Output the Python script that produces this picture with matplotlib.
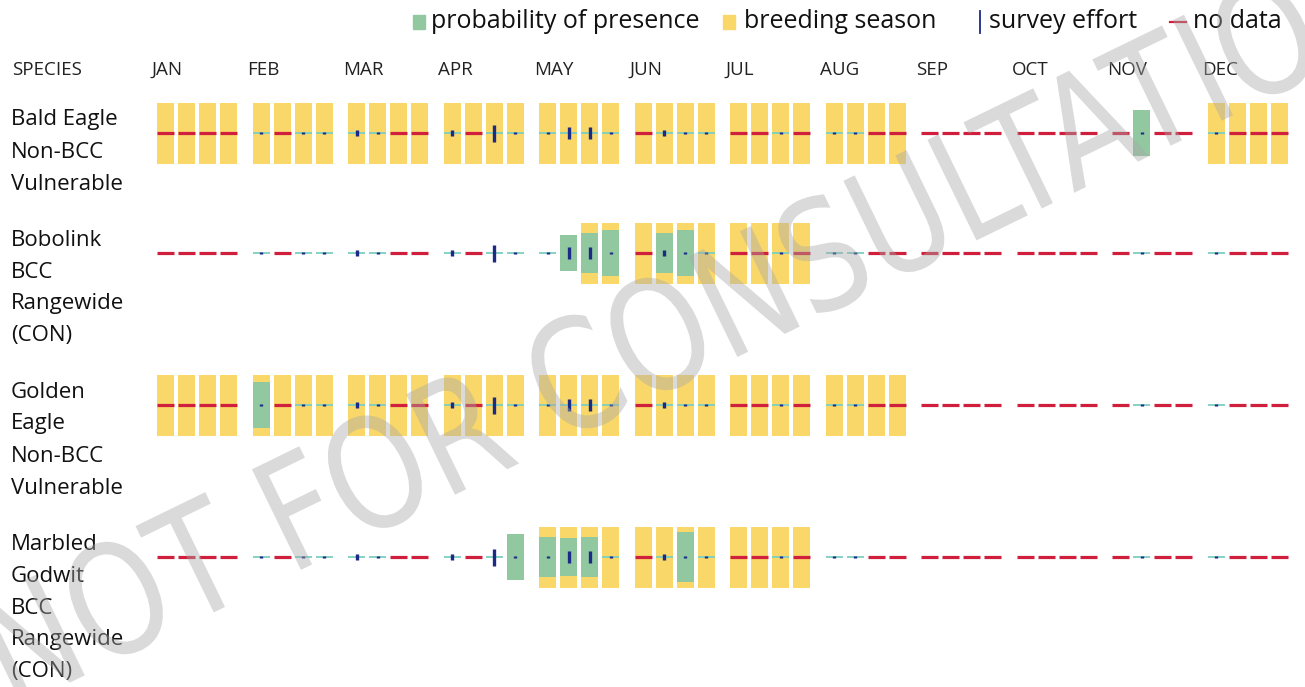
import numpy as np
import matplotlib.pyplot as plt
from matplotlib.patches import Rectangle, PathPatch
from matplotlib.textpath import TextPath
from matplotlib.font_manager import FontProperties
from matplotlib.transforms import Affine2D

plt.rcParams['font.family'] = ['Open Sans', 'DejaVu Sans']

# ---- data -------------------------------------------------------------
months = ['JAN', 'FEB', 'MAR', 'APR', 'MAY', 'JUN',
          'JUL', 'AUG', 'SEP', 'OCT', 'NOV', 'DEC']

species = [
    ['Bald Eagle', 'Non-BCC', 'Vulnerable'],
    ['Bobolink', 'BCC', 'Rangewide', '(CON)'],
    ['Golden', 'Eagle', 'Non-BCC', 'Vulnerable'],
    ['Marbled', 'Godwit', 'BCC', 'Rangewide', '(CON)'],
]

# survey effort per week (0-10), None = no data
N = None
survey_effort = [N, N, N, N,   1.5, N, 1.5, 1.5,   3.5, 1.5, N, N,   3.5, N, 10, 1.5,
                 1.5, 7, 7, 1.5,   N, 3.5, 1.5, 1.5,   N, N, 1.5, N,   1.5, 1.5, N, N,
                 N, N, N, N,   N, N, N, N,   N, 1.5, N, N,   1.5, N, N, N]

# probability of presence per week (0-10)
prob_bald = [0, 0, 0, 0,  0, 0, 0, 0,  0, 0, 0, 0,  0, 0, 0, 0,
             0, 0, 0, 0,  0, 0, 0, 0,  0, 0, 0, 0,  0, 0, 0, 0,
             0, 0, 0, 0,  0, 0, 0, 0,  0, 7.4, 0, 0,  0, 0, 0, 0]
prob_bobolink = [0, 0, 0, 0,  0, 0, 0, 0,  0, 0, 0, 0,  0, 0, 0, 0,
                 0, 5.9, 6.6, 7.4,  0, 6.6, 7.7, 0,  0, 0, 0, 0,  0, 0, 0, 0,
                 0, 0, 0, 0,  0, 0, 0, 0,  0, 0, 0, 0,  0, 0, 0, 0]
prob_golden = [0, 0, 0, 0,  7.5, 0, 0, 0,  0, 0, 0, 0,  0, 0, 0, 0,
               0, 0, 0, 0,  0, 0, 0, 0,  0, 0, 0, 0,  0, 0, 0, 0,
               0, 0, 0, 0,  0, 0, 0, 0,  0, 0, 0, 0,  0, 0, 0, 0]
prob_godwit = [0, 0, 0, 0,  0, 0, 0, 0,  0, 0, 0, 0,  0, 0, 0, 7.4,
               6.6, 6.1, 6.6, 0,  0, 0, 8.2, 0,  0, 0, 0, 0,  0, 0, 0, 0,
               0, 0, 0, 0,  0, 0, 0, 0,  0, 0, 0, 0,  0, 0, 0, 0]
probabilities = [prob_bald, prob_bobolink, prob_golden, prob_godwit]

# breeding season, one string per species, 4 weeks per month
breeding = [
    'YYYY YYYY YYYY YYYY YYYY YYYY YYYY YYYY .... .... .... YYYY',
    '.... .... .... .... ..YY YYYY YYYY .... .... .... .... ....',
    'YYYY YYYY YYYY YYYY YYYY YYYY YYYY YYYY .... .... .... ....',
    '.... .... .... .... YYYY YYYY YYYY .... .... .... .... ....',
]

legend_items = ['probability of presence', 'breeding season', 'survey effort', 'no data']

# ---- style ------------------------------------------------------------
YELLOW = '#f9d769'
GREEN = '#92c8a0'
BLUE = '#1c2a86'
RED = '#cf1f3c'
CYAN = '#7ccfc0'

W, H = 1305, 687
x0, month_pitch, week_pitch = 157, 95.5, 21
cell_w, cell_h, eff_full = 17, 61, 17

fig = plt.figure(figsize=(W / 100, H / 100), dpi=100)
ax = fig.add_axes([0, 0, 1, 1])
ax.set_xlim(0, W)
ax.set_ylim(H, 0)
ax.axis('off')

# legend
ly = 22
ax.add_patch(Rectangle((413, 15), 12, 14, color=GREEN))
ax.text(431, ly, legend_items[0], fontsize=18, va='center', color='#111111')
ax.add_patch(Rectangle((723, 15), 12, 14, color=YELLOW))
ax.text(744, ly, legend_items[1], fontsize=18, va='center', color='#111111')
ax.plot([980, 980], [11, 33], color=BLUE, lw=1.3)
ax.text(989, ly, legend_items[2], fontsize=18, va='center', color='#111111')
ax.plot([1170, 1186], [ly, ly], color=RED, lw=1.6)
ax.text(1193, ly, legend_items[3], fontsize=18, va='center', color='#111111')

# header
ax.text(12, 70, 'SPECIES', fontsize=13.5, va='center', color='#222222')
for m, name in enumerate(months):
    ax.text(x0 + m * month_pitch - 5, 70, name, fontsize=13.5, va='center', color='#222222')

# rows
y_first = 120
for s, lines in enumerate(species):
    for j, line in enumerate(lines):
        ax.text(11, y_first + j * 32, line, fontsize=16, va='center', color='#111111')
    yc = y_first + 13
    flags = breeding[s].replace(' ', '')
    prob = probabilities[s]
    for w in range(48):
        m, k = divmod(w, 4)
        left = x0 + m * month_pitch + k * week_pitch
        cx = left + cell_w / 2
        if flags[w] == 'Y':
            ax.add_patch(Rectangle((left, yc - cell_h / 2), cell_w, cell_h,
                                   color=YELLOW, lw=0, zorder=1))
        eff = survey_effort[w]
        if eff is None:
            ax.plot([left, left + cell_w], [yc, yc], color=RED, lw=2.3,
                    solid_capstyle='butt', zorder=3)
            continue
        if prob[w] > 0:
            ph = prob[w] / 10 * cell_h
            ax.add_patch(Rectangle((left, yc - ph / 2), cell_w, ph,
                                   color=GREEN, lw=0, zorder=2))
        else:
            ax.plot([left, left + cell_w], [yc, yc], color=CYAN, lw=1.3,
                    solid_capstyle='butt', zorder=2)
        eh = eff / 10 * eff_full
        ax.plot([cx, cx], [yc - eh / 2, yc + eh / 2], color=BLUE, lw=2.4,
                solid_capstyle='butt', zorder=4)
    y_first += len(lines) * 32 + 24

# watermark
fp = FontProperties(family='DejaVu Sans')
tp = TextPath((0, 0), 'NOT FOR CONSULTATION', size=100, prop=fp)
bb = tp.get_extents()
kx = 1540 / bb.width
ky = 112 / 73
tr = (Affine2D().translate(-bb.x0 - bb.width / 2, -bb.y0 - bb.height / 2)
      .scale(kx, -ky).rotate_deg(-26).translate(690, 318)) + ax.transData
ax.add_patch(PathPatch(tp, transform=tr, facecolor='#a8a8a8', edgecolor='none',
                       alpha=0.42, zorder=6))

fig.savefig('out.png', dpi=100, facecolor='white')
